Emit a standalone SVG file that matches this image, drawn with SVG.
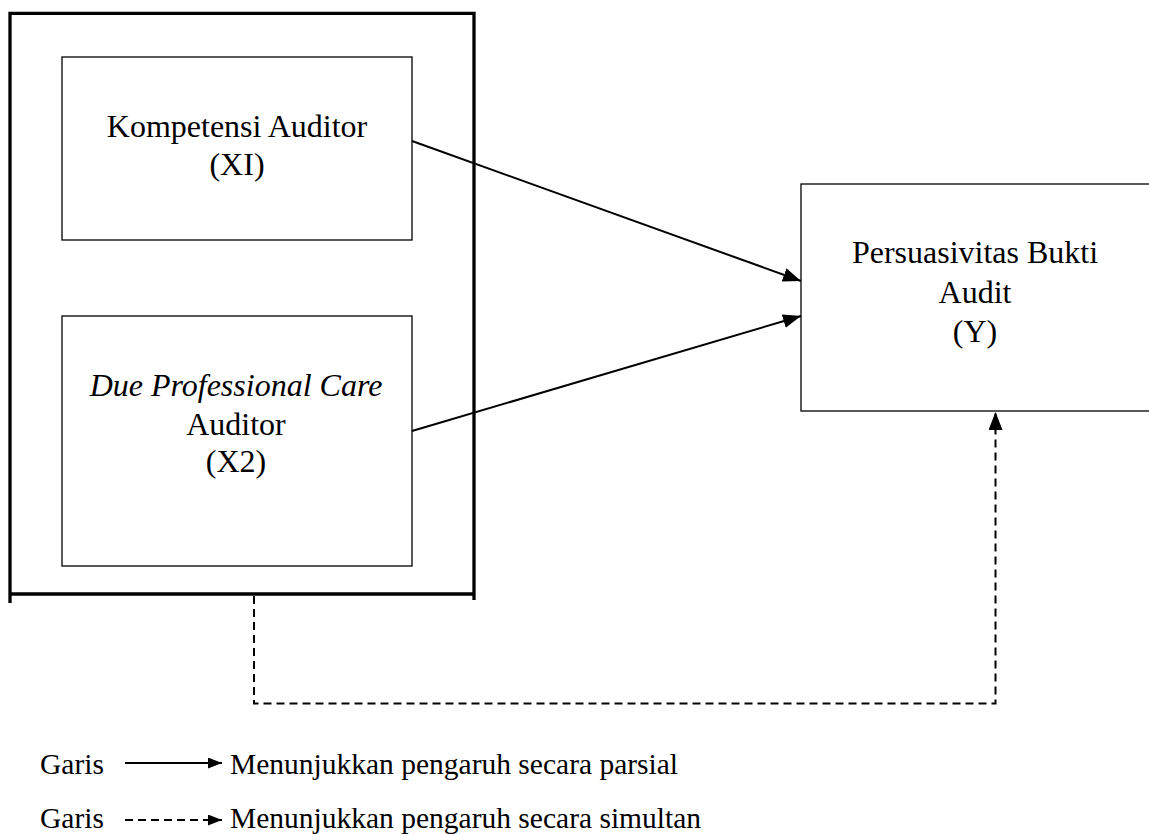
<svg xmlns="http://www.w3.org/2000/svg" width="1149" height="834" viewBox="0 0 1149 834">
<defs>
<style>
.t{font-family:"Liberation Serif","Times New Roman",serif;font-size:32px;fill:#000;text-anchor:middle}
.lg{font-family:"Liberation Serif","Times New Roman",serif;font-size:29.5px;fill:#000}
.box{fill:none;stroke:#000;stroke-width:1.3}
.frame{fill:none;stroke:#000;stroke-width:3.3}
.ln{fill:none;stroke:#000;stroke-width:2}
.dash{fill:none;stroke:#000;stroke-width:2;stroke-dasharray:8 5}
</style>
<marker id="ah" markerUnits="userSpaceOnUse" markerWidth="18" markerHeight="14" refX="18" refY="7" orient="auto">
<path d="M0,0 L18,7 L0,14 z" fill="#000"/>
</marker>
<marker id="ahs" markerUnits="userSpaceOnUse" markerWidth="14" markerHeight="11" refX="14" refY="5.5" orient="auto">
<path d="M0,0 L14,5.5 L0,11 z" fill="#000"/>
</marker>
</defs>
<rect width="1149" height="834" fill="#fff"/>

<g id="frame">
<path class="frame" d="M10,603 V13.3 H474 V600"/>
<path class="frame" d="M10,594 H474"/>
</g>

<g id="x1">
<rect class="box" x="62" y="57" width="350" height="183"/>
<text class="t" x="237" y="137">Kompetensi Auditor</text>
<text class="t" x="237" y="175">(XI)</text>
</g>

<g id="x2">
<rect class="box" x="62" y="316" width="350" height="250"/>
<text class="t" x="236" y="396" font-style="italic">Due Professional Care</text>
<text class="t" x="236" y="435">Auditor</text>
<text class="t" x="236" y="472">(X2)</text>
</g>

<g id="y">
<rect class="box" x="801" y="184" width="360" height="227"/>
<text class="t" x="975" y="263">Persuasivitas Bukti</text>
<text class="t" x="975" y="303">Audit</text>
<text class="t" x="975" y="342">(Y)</text>
</g>

<g id="connectors">
<line class="ln" x1="412" y1="141" x2="801" y2="281" marker-end="url(#ah)"/>
<line class="ln" x1="412" y1="431" x2="801" y2="316" marker-end="url(#ah)"/>
<path class="dash" d="M254,596 V703.5 H995.5 V412" marker-end="url(#ah)"/>
</g>

<g id="legend">
<text class="lg" x="40" y="774">Garis</text>
<line class="ln" x1="125" y1="763" x2="222" y2="763" marker-end="url(#ahs)"/>
<text class="lg" x="230" y="774">Menunjukkan pengaruh secara parsial</text>
<text class="lg" x="40" y="828">Garis</text>
<line class="dash" x1="125" y1="820" x2="222" y2="820" marker-end="url(#ahs)"/>
<text class="lg" x="230" y="828">Menunjukkan pengaruh secara simultan</text>
</g>
</svg>
